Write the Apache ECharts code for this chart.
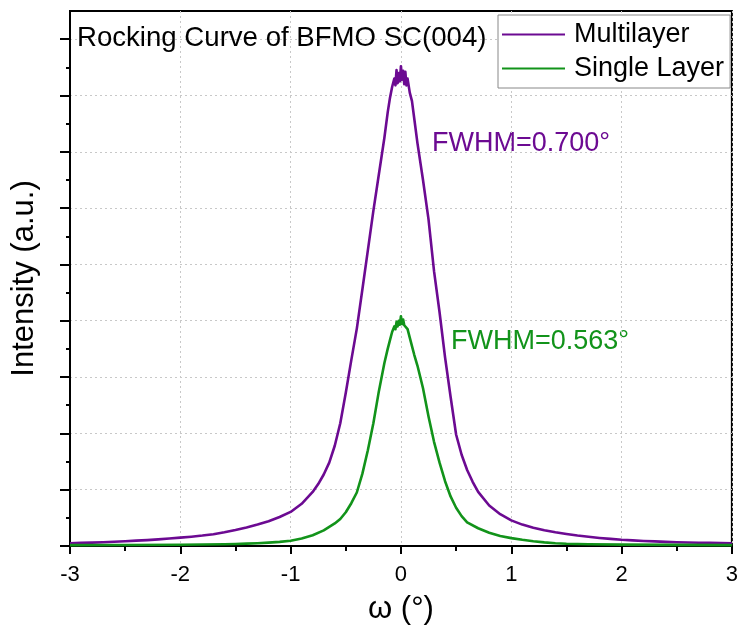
<!DOCTYPE html>
<html>
<head>
<meta charset="utf-8">
<script src="https://cdn.jsdelivr.net/npm/echarts@6/dist/echarts.min.js"></script>
<style>
  html, body { margin: 0; padding: 0; background: #fff; }
  #main { width: 741px; height: 630px; }
</style>
</head>
<body>
<div id="main"></div>
<script>
// omega (deg) and intensity, grid units of 1 per major tick
var omegaMulti = [
  -3.0, -2.9, -2.8, -2.7, -2.6, -2.5, -2.4, -2.3, -2.2, -2.1, -2.0, -1.9, -1.8, -1.7, -1.6, -1.5, -1.4, -1.3, -1.2, -1.1,
  -1.0, -0.9, -0.8, -0.75, -0.7, -0.65, -0.6, -0.55, -0.5, -0.45, -0.4, -0.35, -0.3, -0.25, -0.2, -0.15, -0.12,
  -0.1, -0.08, -0.06, -0.05, -0.04, -0.03, -0.02, -0.01, 0, 0.01, 0.02, 0.03, 0.04, 0.05, 0.06, 0.08, 0.1, 0.12,
  0.15, 0.2, 0.25, 0.3, 0.35, 0.4, 0.45, 0.5, 0.55, 0.6, 0.65, 0.7, 0.8, 0.9,
  1.0, 1.1, 1.2, 1.3, 1.4, 1.5, 1.6, 1.7, 1.8, 1.9, 2.0, 2.1, 2.2, 2.3, 2.4, 2.5, 2.6, 2.7, 2.8, 2.9, 3.0];
var multilayer = [
  0.05, 0.055, 0.06, 0.067, 0.075, 0.085, 0.095, 0.105, 0.118, 0.132, 0.148, 0.165, 0.185, 0.21, 0.245, 0.285, 0.33, 0.38, 0.44, 0.515,
  0.605, 0.75, 0.96, 1.1, 1.27, 1.48, 1.78, 2.18, 2.72, 3.3, 3.86, 4.55, 5.25, 5.95, 6.6, 7.25, 7.7,
  7.95, 8.15, 8.3, 8.18, 8.45, 8.22, 8.4, 8.25, 8.52, 8.28, 8.44, 8.2, 8.42, 8.18, 8.3, 8.05, 7.9, 7.6,
  7.15, 6.5, 5.8, 4.88, 4.15, 3.35, 2.65, 1.98, 1.62, 1.35, 1.14, 0.96, 0.72, 0.565,
  0.455, 0.38, 0.325, 0.28, 0.243, 0.212, 0.185, 0.163, 0.143, 0.126, 0.11, 0.1, 0.09, 0.082, 0.073, 0.066, 0.062, 0.058, 0.055, 0.052, 0.05];

var omegaSingle = [
  -3.0, -2.5, -2.0, -1.8, -1.6, -1.5, -1.4, -1.3, -1.2, -1.1, -1.0, -0.9, -0.8, -0.7, -0.6, -0.55, -0.5, -0.45, -0.4,
  -0.35, -0.3, -0.25, -0.2, -0.15, -0.12, -0.1, -0.08, -0.06, -0.05, -0.04, -0.03, -0.02, -0.01, 0, 0.01, 0.02, 0.03,
  0.04, 0.06, 0.08, 0.1, 0.12, 0.15, 0.2, 0.25, 0.3, 0.35, 0.4, 0.45, 0.5, 0.55, 0.6, 0.7, 0.8, 0.9,
  1.0, 1.1, 1.2, 1.3, 1.4, 1.5, 1.7, 2.0, 2.5, 3.0];
var singleLayer = [
  0.015, 0.018, 0.022, 0.027, 0.032, 0.036, 0.042, 0.05, 0.06, 0.074, 0.094, 0.133, 0.192, 0.278, 0.4, 0.48, 0.6, 0.76, 0.95,
  1.28, 1.7, 2.18, 2.75, 3.25, 3.5, 3.65, 3.8, 3.9, 3.85, 3.98, 3.9, 4.0, 3.93, 4.08, 3.94, 4.02, 3.92,
  3.93, 3.85, 3.7, 3.55, 3.4, 3.2, 2.8, 2.3, 1.85, 1.48, 1.15, 0.88, 0.68, 0.53, 0.42, 0.315, 0.236, 0.177,
  0.14, 0.11, 0.085, 0.065, 0.05, 0.04, 0.03, 0.025, 0.02, 0.015];

var yMajor = [0, 1, 2, 3, 4, 5, 6, 7, 8, 9];
var yMinor = [0.5, 1.5, 2.5, 3.5, 4.5, 5.5, 6.5, 7.5, 8.5];

var purple = '#6c0a92';
var green = '#12931a';
var font = '"Liberation Sans", Arial, sans-serif';

function pairs(xs, ys) {
  return xs.map(function (x, i) { return [x, ys[i]]; });
}

var chart = echarts.init(document.getElementById('main'));
var option = {
  animation: false,
  backgroundColor: '#fff',
  textStyle: { fontFamily: font },
  title: {
    text: 'Rocking Curve of BFMO SC(004)',
    left: 77,
    top: 24,
    padding: 0,
    textStyle: { fontSize: 27.6, fontWeight: 'normal', color: '#000', fontFamily: font }
  },
  legend: {
    orient: 'vertical',
    left: 498,
    top: 15,
    padding: [6, 6, 6, 4],
    itemGap: 7,
    itemWidth: 63,
    itemHeight: 2,
    icon: 'rect',
    backgroundColor: '#fff',
    borderColor: '#888',
    borderWidth: 1,
    borderRadius: 0,
    textStyle: { fontSize: 27, color: '#000', fontFamily: font, padding: [0, 0, 0, 4] },
    data: ['Multilayer', 'Single Layer']
  },
  grid: {
    left: 70, right: 5, top: 11, bottom: 82,
    show: true, borderColor: '#000', borderWidth: 2, backgroundColor: 'transparent'
  },
  xAxis: {
    type: 'value',
    min: -3, max: 3, interval: 1,
    name: 'ω (°)',
    nameLocation: 'middle',
    nameGap: 48,
    nameTextStyle: { fontSize: 31, color: '#000', fontFamily: font },
    axisLine: { onZero: false, lineStyle: { color: '#000', width: 2 } },
    axisTick: { length: 8, lineStyle: { color: '#000', width: 2 } },
    minorTick: { show: true, splitNumber: 2, length: 5, lineStyle: { color: '#000', width: 2 } },
    axisLabel: { fontSize: 22, color: '#000', margin: 18, fontFamily: font },
    splitLine: { show: true, lineStyle: { color: '#c8c8c8', type: [2, 3], width: 1 } }
  },
  yAxis: [{
    type: 'value',
    min: 0, max: 9.5,
    name: 'Intensity (a.u.)',
    nameLocation: 'middle',
    nameGap: 30,
    nameTextStyle: { fontSize: 31, color: '#000', fontFamily: font },
    axisLine: { show: true, onZero: false, lineStyle: { color: '#000', width: 2 } },
    axisTick: { show: true, length: 10, customValues: yMajor, lineStyle: { color: '#000', width: 2 } },
    axisLabel: { show: false, customValues: yMajor },
    splitLine: { show: true, lineStyle: { color: '#c8c8c8', type: [2, 3], width: 1 } }
  }, {
    type: 'value',
    min: 0, max: 9.5,
    position: 'left',
    axisLine: { show: true, onZero: false, lineStyle: { color: '#000', width: 2 } },
    axisTick: { show: true, length: 4, customValues: yMinor, lineStyle: { color: '#000', width: 2 } },
    axisLabel: { show: false, customValues: yMinor },
    splitLine: { show: false }
  }],
  graphic: [{
    type: 'text', left: 432, top: 130,
    style: { text: 'FWHM=0.700°', fontSize: 27, fill: purple, fontFamily: font }
  }, {
    type: 'text', left: 451, top: 328,
    style: { text: 'FWHM=0.563°', fontSize: 27, fill: green, fontFamily: font }
  }],
  series: [{
    name: 'Multilayer',
    type: 'line',
    yAxisIndex: 0,
    showSymbol: false,
    symbol: 'none',
    color: purple,
    lineStyle: { width: 2.6, color: purple, join: 'round' },
    data: pairs(omegaMulti, multilayer)
  }, {
    name: 'Single Layer',
    type: 'line',
    yAxisIndex: 0,
    showSymbol: false,
    symbol: 'none',
    color: green,
    lineStyle: { width: 2.6, color: green, join: 'round' },
    data: pairs(omegaSingle, singleLayer)
  }]
};
chart.setOption(option);
</script>
</body>
</html>
